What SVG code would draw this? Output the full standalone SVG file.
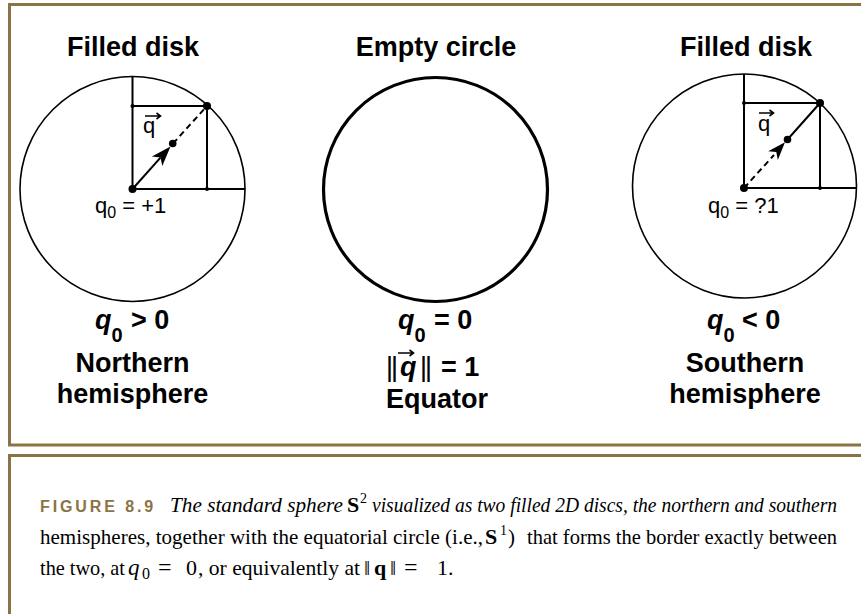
<svg xmlns="http://www.w3.org/2000/svg" width="861" height="614" viewBox="0 0 861 614">
<style>
.frame{fill:none;stroke:#8a7445;stroke-width:3}
.ln{stroke:#000;stroke-width:2;fill:none}
.thin{stroke:#000;stroke-width:1.6;fill:none}
.dash{stroke:#000;stroke-width:2;stroke-dasharray:6 4;fill:none}
.b{font-family:"Liberation Sans",Arial,sans-serif;font-weight:bold;font-size:27px;fill:#000}
.r{font-family:"Liberation Sans",Arial,sans-serif;font-size:22px;fill:#000}
.cap{font-family:"Liberation Serif","Times New Roman",serif;font-size:21px;fill:#000}
.it{font-style:italic}
.fig{font-family:"Liberation Sans",Arial,sans-serif;font-weight:bold;font-size:16px;letter-spacing:2.9px;fill:#8a7445}
</style>
<rect width="861" height="614" fill="#fff"/>
<g id="frame">
<path class="frame" d="M861 4.5 H9.5 V445 H861"/>
<path class="frame" d="M861 455.5 H9.5 V614"/>
</g>
<g id="node-north">
<text class="b" x="133" y="56" text-anchor="middle">Filled disk</text>
<circle class="thin" cx="132.5" cy="189" r="112.5"/>
<path class="ln" d="M132.5 76.5 V189 H245 M132.5 106 H207 V189"/>
<circle cx="132.5" cy="106" r="2"/>
<circle cx="207" cy="189" r="2"/>
<path class="ln" d="M132.5 189 L160.5 157.6"/>
<path class="dash" d="M173 143.5 L207 106"/>
<polygon points="170.5,146.5 162.3,166 160.5,157.6 151.9,156.6"/>
<circle cx="132.5" cy="189" r="4"/>
<circle cx="172.7" cy="143.5" r="3.8"/>
<circle cx="207" cy="106" r="4"/>
<text class="r" x="143" y="133">q</text>
<text class="r" x="95" y="213">q<tspan style="font-size:16px" dy="5">0</tspan><tspan dy="-5"> = +1</tspan></text>
<text class="b" x="95" y="329"><tspan font-style="italic">q</tspan><tspan style="font-size:20px" dy="13">0</tspan><tspan x="131" dy="-13">&gt; 0</tspan></text>
<text class="b" x="132.5" y="372" text-anchor="middle">Northern</text>
<text class="b" x="132.5" y="403" text-anchor="middle">hemisphere</text>
</g>
<g id="node-equator">
<text class="b" x="436" y="56" text-anchor="middle">Empty circle</text>
<circle cx="435.5" cy="189.5" r="112" fill="none" stroke="#000" stroke-width="3.2"/>
<text class="b" x="398" y="329"><tspan font-style="italic">q</tspan><tspan style="font-size:20px" dy="13">0</tspan><tspan x="434" dy="-13">= 0</tspan></text>
<text class="b" x="387" y="376" textLength="10" lengthAdjust="spacingAndGlyphs">||</text>
<text class="b" x="400" y="376" font-style="italic">q</text>
<text class="b" x="421" y="376" textLength="10" lengthAdjust="spacingAndGlyphs">||</text>
<text class="b" x="441" y="376">= 1</text>
<text class="b" x="437" y="408" text-anchor="middle">Equator</text>
</g>
<g id="node-south">
<text class="b" x="746" y="56" text-anchor="middle">Filled disk</text>
<circle class="thin" cx="744.5" cy="186" r="112"/>
<path class="ln" d="M744 74 V188 H856.5 M744 103 H820 V188"/>
<circle cx="744" cy="103" r="2"/>
<circle cx="820" cy="188" r="2"/>
<path class="dash" d="M744 188 L774 155"/>
<path class="ln" d="M787.5 139.5 L820 103"/>
<polygon points="785,142.3 777.8,160 776.3,152 768.2,151.3"/>
<circle cx="744" cy="188" r="4"/>
<circle cx="787.5" cy="139.5" r="3.8"/>
<circle cx="820" cy="103" r="4"/>
<text class="r" x="758" y="131">q</text>
<text class="r" x="708" y="213">q<tspan style="font-size:16px" dy="5">0</tspan><tspan dy="-5"> = ?1</tspan></text>
<text class="b" x="707" y="329"><tspan font-style="italic">q</tspan><tspan style="font-size:20px" dy="13">0</tspan><tspan x="742" dy="-13">&lt; 0</tspan></text>
<text class="b" x="745" y="372" text-anchor="middle">Southern</text>
<text class="b" x="745" y="403" text-anchor="middle">hemisphere</text>
</g>
<g id="connectors">
<path class="thin" stroke-width="1.2" d="M145 116 H160 M156.5 113 L160.5 116 L156.5 119"/>
<path class="thin" stroke-width="1.2" d="M759 113 H773 M769.5 110 L773.5 113 L769.5 116"/>
<path class="thin" stroke-width="1.6" d="M398 353 H413 M409.5 350 L413.5 353 L409.5 356"/>
</g>
<g id="caption">
<text class="fig" x="40" y="512">FIGURE 8.9</text>
<text class="cap it" x="170" y="512" textLength="173" lengthAdjust="spacingAndGlyphs">The standard sphere</text>
<text class="cap" x="347" y="512" style="font-weight:bold;font-size:22px">S</text>
<text class="cap" x="360" y="503" style="font-size:14px">2</text>
<text class="cap it" x="372" y="512" textLength="465" lengthAdjust="spacingAndGlyphs">visualized as two filled 2D discs, the northern and southern</text>
<text class="cap" x="40" y="543.5" textLength="443" lengthAdjust="spacing">hemispheres, together with the equatorial circle (i.e.,</text>
<text class="cap" x="485" y="543.5" style="font-weight:bold;font-size:22px">S</text>
<text class="cap" x="500" y="535" style="font-size:14px">1</text>
<text class="cap" x="508" y="543.5">)</text>
<text class="cap" x="527" y="543.5" textLength="310" lengthAdjust="spacingAndGlyphs">that forms the border exactly between</text>
<text class="cap" x="40" y="575" textLength="85" lengthAdjust="spacingAndGlyphs">the two, at</text>
<text class="cap it" x="128" y="575" style="font-size:23px">q</text>
<text class="cap" x="142" y="579" style="font-size:16px">0</text>
<text class="cap" x="158" y="575" style="font-size:24px">=</text>
<text class="cap" x="186" y="575" style="font-size:22px">0</text>
<text class="cap" x="198" y="575" textLength="162" lengthAdjust="spacingAndGlyphs">, or equivalently at</text>
<text class="cap" x="364" y="575" style="font-size:22px">‖</text>
<text class="cap" x="374" y="575" style="font-size:22px;font-weight:bold">q</text>
<text class="cap" x="390" y="575" style="font-size:22px">‖</text>
<text class="cap" x="404" y="575" style="font-size:24px">=</text>
<text class="cap" x="437" y="575" style="font-size:22px">1.</text>
</g>
</svg>
